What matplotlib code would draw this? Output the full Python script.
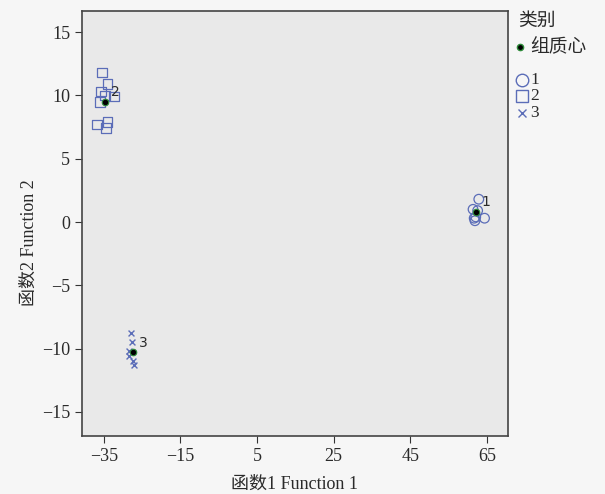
import matplotlib
matplotlib.use('Agg')
import matplotlib.pyplot as plt
from matplotlib.lines import Line2D

plt.rcParams['font.family'] = ['Liberation Serif', 'Noto Sans CJK SC']
plt.rcParams['axes.unicode_minus'] = True

# group 1 (circles)
g1_x = [62.9, 61.4, 62.1, 61.7, 64.4, 61.9, 62.6]
g1_y = [1.8, 1.0, 0.4, 0.3, 0.3, 0.1, 0.9]
# group 2 (squares)
g2_x = [-35.5, -34.0, -35.8, -36.0, -32.4, -36.8, -34.0, -34.5, -34.7]
g2_y = [11.8, 10.9, 10.3, 9.5, 9.9, 7.7, 7.9, 7.4, 10.0]
# group 3 (crosses)
g3_x = [-28.0, -27.7, -28.3, -27.5, -27.1, -28.5]
g3_y = [-8.8, -9.5, -10.6, -11.0, -11.3, -10.2]
# centroids
cen_x = [62.1, -34.7, -27.4]
cen_y = [0.8, 9.5, -10.3]
cen_lab = ['1', '2', '3']

xticks = [-35, -15, 5, 25, 45, 65]
yticks = [-15, -10, -5, 0, 5, 10, 15]

blue = '#5b6db8'
txt = '#2a2a2a'

fig = plt.figure(figsize=(6.05, 4.94), dpi=100, facecolor='#f6f6f6')
ax = fig.add_axes([0.1355, 0.1174, 0.704, 0.860], facecolor='#e9e9e9')

ax.scatter(g1_x, g1_y, marker='o', s=48, facecolors='none', edgecolors=blue, linewidths=0.9)
ax.scatter(g2_x, g2_y, marker='s', s=48, facecolors='none', edgecolors=blue, linewidths=0.9)
ax.scatter(g3_x, g3_y, marker='x', s=18, color=blue, linewidths=1.0)
ax.scatter(cen_x, cen_y, marker='o', s=22, color='black', edgecolors='#2e8b3a', linewidths=0.8, zorder=5)
for x, y, t in zip(cen_x, cen_y, cen_lab):
    ax.text(x + 1.6, y + 0.45, t, fontsize=10, family='DejaVu Sans', color=txt)

ax.set_xlim(-40.7, 70.5)
ax.set_ylim(-16.9, 16.65)
ax.set_xticks(xticks)
ax.set_yticks(yticks)
ax.tick_params(labelsize=13, length=5, color='#333333', labelcolor=txt)
for sp in ax.spines.values():
    sp.set_color('#444444')
    sp.set_linewidth(1.2)

ax.set_xlabel('函数1 Function 1', fontsize=13, color=txt, labelpad=8)
ax.set_ylabel('函数2 Function 2', fontsize=13, color=txt)
ax.yaxis.set_label_coords(-0.105, 0.455)

# legend, laid out by hand (pixel positions in the 605x494 figure)
def fx(px):
    return px / 605

def fy(py):
    return 1 - py / 494

fig.text(fx(518), fy(21), '类别', fontsize=13.5, color=txt, va='center', ha='left')

leg_marks = [
    dict(marker='o', markersize=4.5, color='black', markeredgecolor='#2e8b3a'),
    dict(marker='o', markersize=9, markerfacecolor='none', markeredgecolor=blue),
    dict(marker='s', markersize=9, markerfacecolor='none', markeredgecolor=blue),
    dict(marker='x', markersize=6, color=blue),
]
leg_labels = ['组质心', '1', '2', '3']
leg_rows = [47, 80, 96.5, 113]
leg_mx = [520, 522, 522, 522]
for m, lab, py, mx in zip(leg_marks, leg_labels, leg_rows, leg_mx):
    fig.add_artist(Line2D([fx(mx)], [fy(py)], linestyle='none', transform=fig.transFigure, **m))
    fig.text(fx(530), fy(py), lab, fontsize=13.5 if lab == '组质心' else 12.5,
             color=txt, va='center', ha='left')

fig.savefig('out.png', dpi=100, facecolor=fig.get_facecolor())
